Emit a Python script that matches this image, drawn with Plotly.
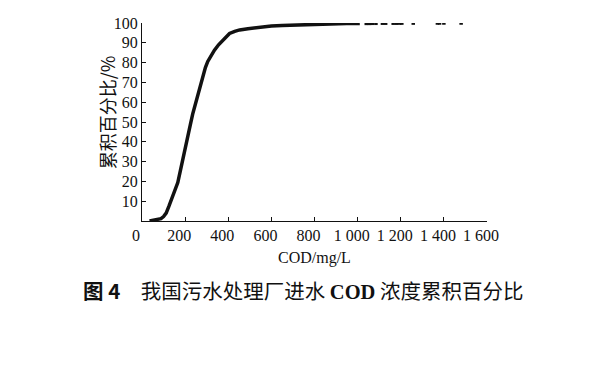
import plotly.graph_objects as go

# Main cumulative curve (COD mg/L vs cumulative %)
cod_curve = [35, 60, 88, 100, 112, 125, 142, 155, 166, 178, 189, 200, 212, 224, 235,
             247, 259, 270, 282, 294, 305, 320, 336, 355, 375, 390, 406, 430, 453, 491,
             550, 600, 650, 700, 750, 800, 850, 900, 950, 1010]
pct_curve = [0, 0.4, 1.2, 2.2, 4, 7.5, 12, 16, 19.4, 25.5, 31.5, 37, 42.8, 48.5, 54,
             59, 63.7, 68.5, 73.4, 77.5, 80.6, 83.8, 86.3, 89, 91.1, 93, 94.7, 95.8, 96.5, 97.1,
             98, 98.5, 98.8, 99.0, 99.2, 99.4, 99.5, 99.6, 99.7, 99.8]

# Sparse tail samples
cod_tail = [1040, 1055, 1070, 1085, 1115, 1130, 1165, 1180, 1195, 1205, 1258,
            1370, 1380, 1400, 1480]
pct_tail = [99.8, 99.8, 99.85, 99.85, 99.9, 99.9, 99.9, 99.9, 99.95, 99.95, 99.95,
            100, 100, 100, 100]

x_tickvals = [0, 200, 400, 600, 800, 1000, 1200, 1400, 1600]
x_ticktext = ["0", "200", "400", "600", "800", "1 000", "1 200", "1 400", "1 600"]
y_tickvals = [10, 20, 30, 40, 50, 60, 70, 80, 90, 100]

x_title = "COD/mg/L"
y_title = "累积百分比/%"
caption = "<b>图 4</b>　我国污水处理厂进水 <b><span style='font-family:Liberation Serif'>COD</span></b> 浓度累积百分比"

serif = "Liberation Serif, Times New Roman, serif"
cjk = "Noto Sans CJK SC, sans-serif"

fig = go.Figure()
fig.add_trace(go.Scatter(x=cod_curve, y=pct_curve, mode="lines",
                         line=dict(color="#111111", width=3.5),
                         showlegend=False, hoverinfo="skip"))
fig.add_trace(go.Scatter(x=cod_tail, y=pct_tail, mode="markers",
                         marker=dict(color="#111111", size=3.5, symbol="square"),
                         showlegend=False, hoverinfo="skip"))

fig.update_layout(
    width=602, height=377,
    margin=dict(l=134, r=123, t=7, b=164),
    paper_bgcolor="white", plot_bgcolor="white",
    font=dict(family=serif, size=16, color="#111111"),
    xaxis=dict(range=[0, 1600], tickvals=x_tickvals, ticktext=x_ticktext,
               showgrid=False, zeroline=False, showline=True, linecolor="#111111",
               linewidth=1, ticks="inside", ticklen=4, tickcolor="#111111",
               ticklabelshift=-6, ticklabeloverflow="allow",
               tickfont=dict(family=serif, size=16, color="#111111")),
    yaxis=dict(range=[0, 100], tickvals=y_tickvals,
               showgrid=False, zeroline=False, showline=True, linecolor="#111111",
               linewidth=1, ticks="inside", ticklen=4, tickcolor="#111111",
               ticklabeloverflow="allow",
               tickfont=dict(family=serif, size=16, color="#111111")),
    annotations=[
        dict(text=x_title, xref="paper", yref="paper", x=0.5, y=-0.185,
             showarrow=False, xanchor="center", yanchor="middle",
             font=dict(family=serif, size=16, color="#111111")),
        dict(text=y_title, xref="paper", yref="paper", x=-0.101, y=0.55,
             showarrow=False, xanchor="center", yanchor="middle", textangle=-90,
             font=dict(family=cjk, size=18, color="#111111")),
        dict(text=caption, xref="paper", yref="paper", x=0.467, y=-0.347,
             showarrow=False, xanchor="center", yanchor="middle",
             font=dict(family=cjk, size=20.5, color="#111111")),
    ],
)

fig.write_html("out.html")
